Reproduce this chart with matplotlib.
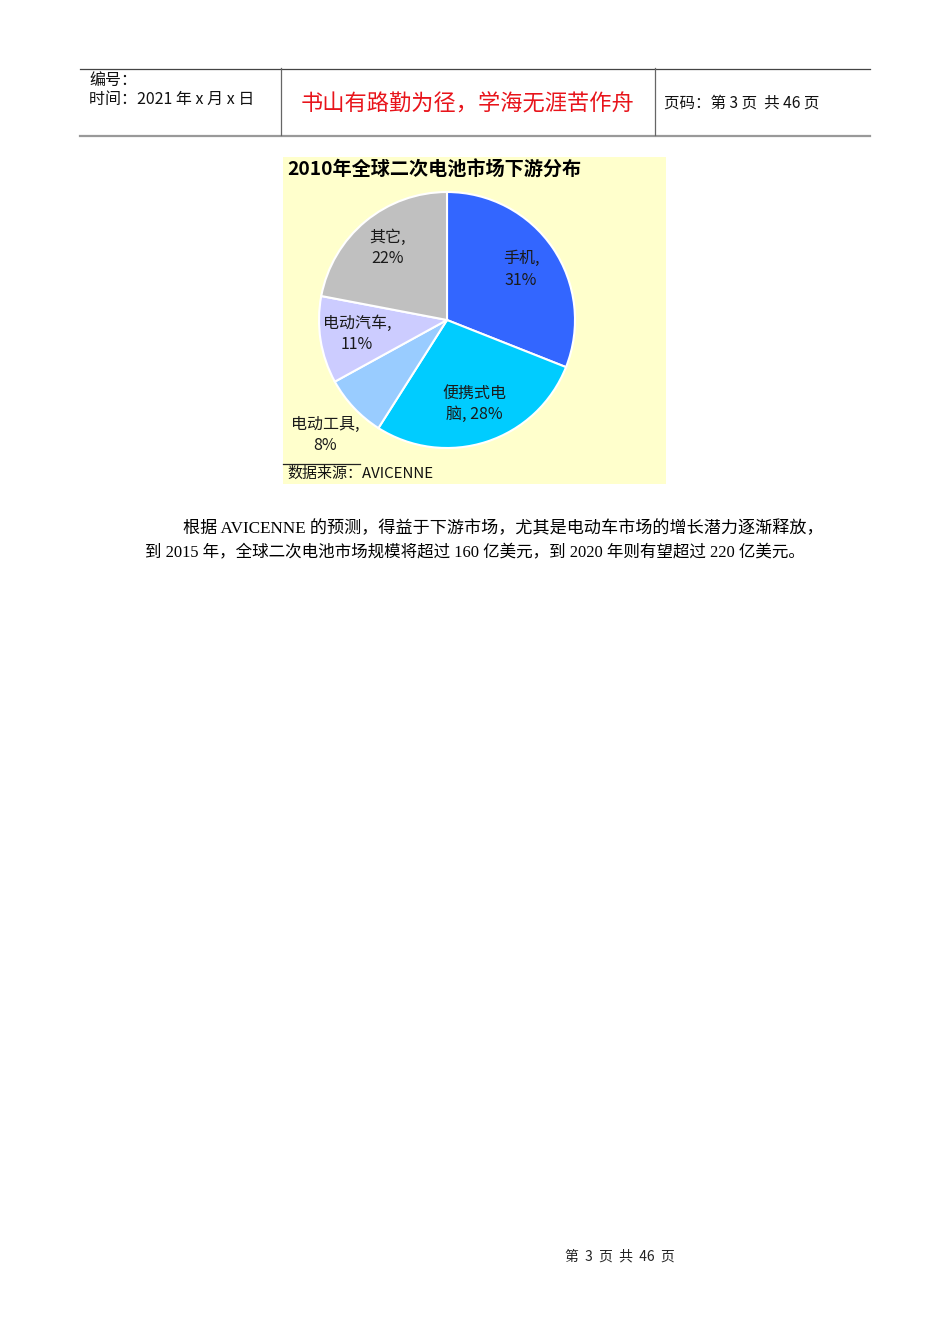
import matplotlib
matplotlib.use("Agg")
import matplotlib.pyplot as plt
from matplotlib.patches import Rectangle
from matplotlib.lines import Line2D
import numpy as np

plt.rcParams['font.family'] = ['Noto Sans CJK SC', 'DejaVu Sans']

# ---- data ----
categories = ["手机", "便携式电脑", "电动工具", "电动汽车", "其它"]
shares = [31, 28, 8, 11, 22]
label_texts = ["手机,\n31%", "便携式电\n脑, 28%", "电动工具,\n8%", "电动汽车,\n11%", "其它,\n22%"]
colors = ["#3366FF", "#00CCFF", "#99CCFF", "#CCCCFF", "#C0C0C0"]
label_dist = [0.70, 0.69, 1.31, 0.71, 0.73]

chart_title = "2010年全球二次电池市场下游分布"
source_text = "数据来源：AVICENNE"
header_left = ["编号：", "时间：2021 年 x 月 x 日"]
header_mid = "书山有路勤为径，学海无涯苦作舟"
header_right = "页码：第 3 页  共 46 页"
body_lines = ["根据 AVICENNE 的预测，得益于下游市场，尤其是电动车市场的增长潜力逐渐释放，",
              "到 2015 年，全球二次电池市场规模将超过 160 亿美元，到 2020 年则有望超过 220 亿美元。"]
footer = "第  3  页  共  46  页"

W, H = 950, 1344
fig = plt.figure(figsize=(W / 100, H / 100), dpi=100)
fig.patch.set_facecolor("white")

def fx(x):
    return x / W

def fy(y):
    return 1 - y / H

def hline(x0, x1, y, color, lw):
    fig.add_artist(Line2D([fx(x0), fx(x1)], [fy(y), fy(y)], transform=fig.transFigure, color=color, lw=lw))

def vline(x, y0, y1, color, lw):
    fig.add_artist(Line2D([fx(x), fx(x)], [fy(y0), fy(y1)], transform=fig.transFigure, color=color, lw=lw))

# ---- header ----
hline(80, 870, 68.5, "#444444", 0.9)
hline(80, 870, 135.5, "#999999", 1.6)
vline(281, 68, 135, "#666666", 0.9)
vline(655, 68, 135, "#666666", 0.9)
fig.text(fx(89), fy(80), header_left[0], fontsize=11.5, va="center", ha="left", color="#111111")
fig.text(fx(89), fy(99), header_left[1], fontsize=11.5, va="center", ha="left", color="#111111")
fig.text(fx(468), fy(104), header_mid, fontsize=16, va="center", ha="center", color="#E8141B")
fig.text(fx(664), fy(103), header_right, fontsize=11.2, va="center", ha="left", color="#111111")

# ---- chart background ----
fig.add_artist(Rectangle((fx(283), fy(484)), fx(666 - 283), (484 - 157) / H,
                         transform=fig.transFigure, facecolor="#FFFFCC", edgecolor="none", zorder=0))
fig.text(fx(287), fy(170), chart_title, fontsize=13.8, fontweight="bold", va="center", ha="left", color="black")
hline(283, 360, 463.5, "#222222", 0.9)
fig.text(fx(287), fy(474), source_text, fontsize=10.8, va="center", ha="left", color="#111111")

# ---- pie ----
cx, cy, r = 447, 320, 128
ax = fig.add_axes([fx(cx - r), fy(cy + r), 2 * r / W, 2 * r / H])
ax.set_facecolor("none")
wedges, _ = ax.pie(shares, colors=colors, startangle=90, counterclock=False,
                   wedgeprops=dict(edgecolor="white", linewidth=1.5))
ax.set_xlim(-1, 1)
ax.set_ylim(-1, 1)
ax.set_aspect("auto")
ax.axis("off")
for w, txt, d in zip(wedges, label_texts, label_dist):
    ang = np.deg2rad((w.theta1 + w.theta2) / 2)
    ax.text(d * np.cos(ang), d * np.sin(ang), txt, ha="center", va="center",
            multialignment="center", fontsize=11.5, color="#1a1a1a", linespacing=1.35,
            clip_on=False)

# ---- body ----
body_font = ['Liberation Serif', 'Noto Sans CJK SC']
fig.text(fx(183), fy(529), body_lines[0], fontsize=12.3, va="center", ha="left",
         family=body_font, color="black")
fig.text(fx(145), fy(553), body_lines[1], fontsize=11.9, va="center", ha="left",
         family=body_font, color="black")

# ---- footer ----
fig.text(fx(620), fy(1256), footer, fontsize=10, va="center", ha="center", color="#222222")

fig.savefig("out.png", dpi=100)
